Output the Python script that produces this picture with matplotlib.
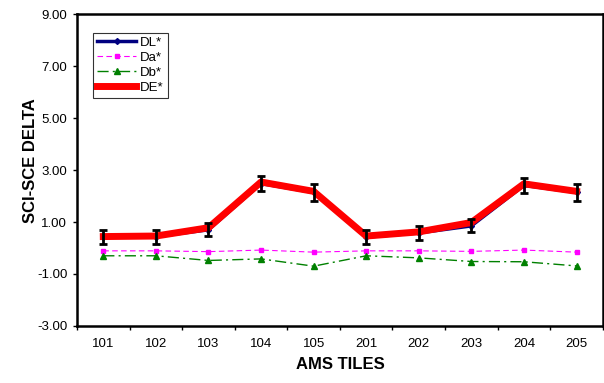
import numpy as np
import matplotlib
matplotlib.use("Agg")
from matplotlib import pyplot as plt

tiles = ["101", "102", "103", "104", "105", "201", "202", "203", "204", "205"]
dl = [0.42, 0.44, 0.70, 2.48, 2.14, 0.42, 0.58, 0.85, 2.41, 2.14]
da = [-0.11, -0.11, -0.14, -0.08, -0.16, -0.11, -0.11, -0.13, -0.08, -0.16]
db = [-0.30, -0.30, -0.48, -0.42, -0.70, -0.30, -0.38, -0.52, -0.53, -0.69]
de = [0.44, 0.46, 0.78, 2.54, 2.18, 0.46, 0.62, 0.98, 2.47, 2.18]
dl_err = [0.27, 0.27, 0.25, 0.29, 0.32, 0.27, 0.27, 0.25, 0.29, 0.32]

plt.rcParams['font.family'] = ['Liberation Sans', 'DejaVu Sans']

fig = plt.figure(figsize=(6.04, 3.83), dpi=100)
ax = fig.add_axes([0.1275, 0.149, 0.8705, 0.814])

x = np.arange(len(tiles))

ax.plot(x, dl, color="#000080", lw=2.5, marker="D", ms=3, label="DL*", zorder=3)
ax.plot(x, da, color="#ff00ff", lw=0.8, ls=(0, (5, 3)), marker="s", ms=3, label="Da*", zorder=3)
ax.plot(x, db, color="#008000", lw=1.0, ls=(0, (8, 3, 1.5, 3)), marker="^", ms=4, label="Db*", zorder=3)
ax.plot(x, de, color="#ff0000", lw=5, marker="o", ms=3, label="DE*", zorder=4)
ax.errorbar(x, dl, yerr=dl_err, fmt="none", ecolor="black", elinewidth=2,
            capsize=3, capthick=2, zorder=5)

ax.set_xlim(-0.5, len(tiles) - 0.5)
ax.set_ylim(-3, 9)
ax.set_yticks(np.arange(-3, 10, 2))
ax.set_yticklabels([f"{v:.2f}" for v in np.arange(-3, 10, 2)], fontsize=9.5)
ax.set_xticks(x)
ax.set_xticklabels(tiles, fontsize=9.5)
ax.set_xticks(np.arange(-0.5, len(tiles)), minor=True)
ax.tick_params(axis="x", which="major", length=0, pad=9)
ax.tick_params(axis="x", which="minor", length=3, width=1)
ax.tick_params(axis="y", length=3, width=1, pad=4)

for s in ax.spines.values():
    s.set_linewidth(1.8)

ax.set_xlabel("AMS TILES", fontsize=12, fontweight="bold", labelpad=5)
ax.set_ylabel("SCI-SCE DELTA", fontsize=12, fontweight="bold")
ax.yaxis.set_label_coords(-0.074, 0.53)

leg = ax.legend(loc="upper left", bbox_to_anchor=(0.03, 0.94), fontsize=9.5,
                frameon=True, fancybox=False, edgecolor="black",
                handlelength=3.0, borderpad=0.3, labelspacing=0.2,
                handletextpad=0.3, borderaxespad=0)
leg.get_frame().set_linewidth(0.8)

fig.savefig("out.png", dpi=100)
plt.close()
